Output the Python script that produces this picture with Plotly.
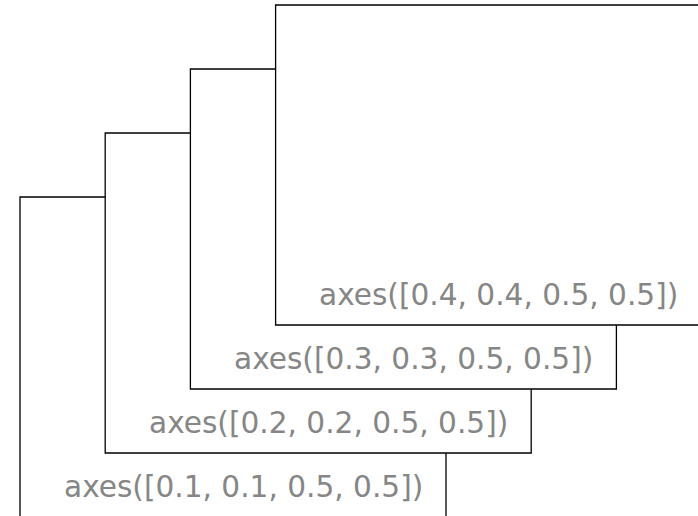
import plotly.graph_objects as go

# axes rectangles in figure fractions [left, bottom, width, height]
rects = [
    [0.1, 0.1, 0.5, 0.5],
    [0.2, 0.2, 0.5, 0.5],
    [0.3, 0.3, 0.5, 0.5],
    [0.4, 0.4, 0.5, 0.5],
]
labels = ["axes([%s, %s, %s, %s])" % tuple(r) for r in rects]

W, H = 698, 516
FIG_W, FIG_H = 852, 640      # full (uncropped) figure size in px
OFF_X, OFF_Y = 65.2, 59.0    # crop offset


def px_x(fx):
    return (fx * FIG_W - OFF_X) / W


def px_y(fy):
    py = (1 - fy) * FIG_H - OFF_Y
    return 1 - py / H


shapes = []
annotations = []
for r, lab in zip(rects, labels):
    l, b, w, h = r
    shapes.append(dict(
        type="rect", xref="paper", yref="paper",
        x0=px_x(l), x1=px_x(l + w), y0=px_y(b), y1=px_y(b + h),
        fillcolor="white", line=dict(color="black", width=1.3), layer="above",
    ))
    annotations.append(dict(
        xref="paper", yref="paper",
        x=px_x(l + 0.95 * w), y=px_y(b + 0.035 * h),
        xanchor="right", yanchor="bottom", showarrow=False,
        text=lab, font=dict(family="DejaVu Sans", size=29.6, color="#868686"),
    ))

fig = go.Figure()
fig.update_layout(
    width=W, height=H, margin=dict(l=0, r=0, t=0, b=0),
    paper_bgcolor="white", plot_bgcolor="white",
    xaxis=dict(visible=False), yaxis=dict(visible=False),
    shapes=shapes, annotations=annotations, showlegend=False,
)
fig.write_html("out.html", config={"displayModeBar": False},
               post_script="document.body.style.margin='0';")
